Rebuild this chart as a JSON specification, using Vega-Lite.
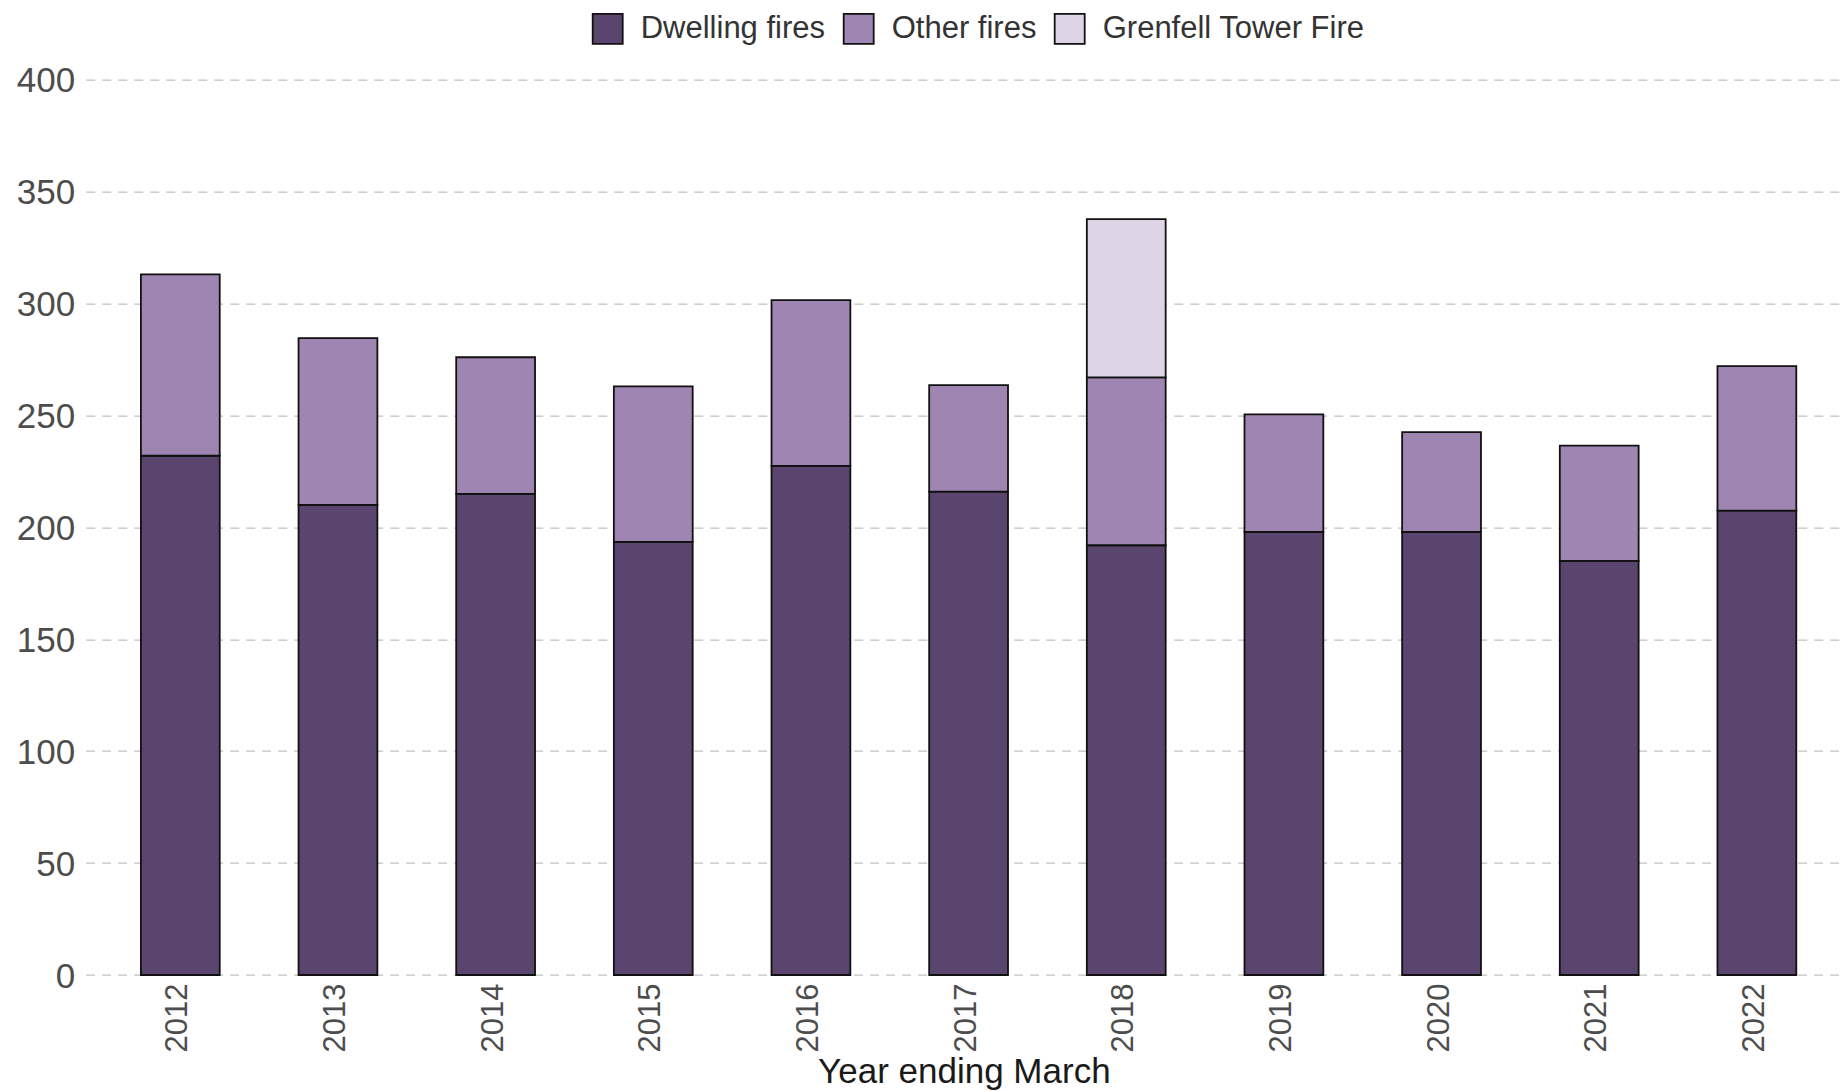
{
"$schema":"https://vega.github.io/schema/vega-lite/v6.json",
"width":1756.3,"height":895.3,
"autosize":{"type":"none"},
"padding":{"left":85.7,"top":79.7,"right":0,"bottom":116},
"background":"white",
"view":{"stroke":null},
"config":{"font":"Liberation Sans"},
"data":{"values":[
{"year":"2012","type":"Dwelling fires","deaths":232,"rank":1},{"year":"2012","type":"Other fires","deaths":81,"rank":2},
{"year":"2013","type":"Dwelling fires","deaths":210,"rank":1},{"year":"2013","type":"Other fires","deaths":74.5,"rank":2},
{"year":"2014","type":"Dwelling fires","deaths":215,"rank":1},{"year":"2014","type":"Other fires","deaths":61,"rank":2},
{"year":"2015","type":"Dwelling fires","deaths":193.5,"rank":1},{"year":"2015","type":"Other fires","deaths":69.5,"rank":2},
{"year":"2016","type":"Dwelling fires","deaths":227.5,"rank":1},{"year":"2016","type":"Other fires","deaths":74,"rank":2},
{"year":"2017","type":"Dwelling fires","deaths":216,"rank":1},{"year":"2017","type":"Other fires","deaths":47.5,"rank":2},
{"year":"2018","type":"Dwelling fires","deaths":192,"rank":1},{"year":"2018","type":"Other fires","deaths":75,"rank":2},{"year":"2018","type":"Grenfell Tower Fire","deaths":70.7,"rank":3},
{"year":"2019","type":"Dwelling fires","deaths":198,"rank":1},{"year":"2019","type":"Other fires","deaths":52.5,"rank":2},
{"year":"2020","type":"Dwelling fires","deaths":198,"rank":1},{"year":"2020","type":"Other fires","deaths":44.5,"rank":2},
{"year":"2021","type":"Dwelling fires","deaths":185,"rank":1},{"year":"2021","type":"Other fires","deaths":51.5,"rank":2},
{"year":"2022","type":"Dwelling fires","deaths":207.5,"rank":1},{"year":"2022","type":"Other fires","deaths":64.5,"rank":2}
]},
"mark":{"type":"bar","stroke":"#111111","strokeWidth":1.8},
"encoding":{
"x":{"field":"year","type":"nominal","scale":{"paddingInner":0.5,"paddingOuter":0.32,"align":0.547},
"axis":{"title":"Year ending March","titleFontSize":35,"titleFontWeight":"normal","titleColor":"#1a1a1a","titlePadding":3,"labelAngle":-90,"labelFontSize":31,"labelColor":"#4d4d4d","labelPadding":8,"labelOffset":-2,"ticks":false,"domain":false,"grid":false}},
"y":{"field":"deaths","type":"quantitative","stack":"zero","scale":{"domain":[0,400],"nice":false},
"axis":{"title":null,"values":[0,50,100,150,200,250,300,350,400],"labelFontSize":35,"labelColor":"#4d4d4d","labelPadding":11,"labelOffset":1,"ticks":false,"domain":false,"grid":true,"gridColor":"#c0c0c0","gridWidth":1.3,"gridDash":[9,7]}},
"color":{"field":"type","type":"nominal","scale":{"domain":["Dwelling fires","Other fires","Grenfell Tower Fire"],"range":["#59456d","#9f86b2","#ddd5e6"]},
"legend":{"title":null,"orient":"none","legendX":506,"legendY":-67,"direction":"horizontal","columns":3,"symbolType":"square","symbolSize":900,"symbolStrokeWidth":1.8,"symbolStrokeColor":"#111111","labelFontSize":31,"labelColor":"#333333","labelOffset":17,"columnPadding":14,"labelLimit":400}},
"order":{"field":"rank","type":"quantitative"}
}
}
